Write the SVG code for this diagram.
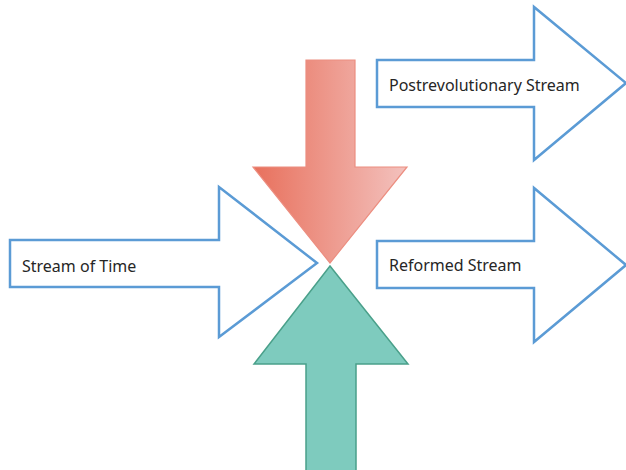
<svg xmlns="http://www.w3.org/2000/svg" width="626" height="470" viewBox="0 0 626 470">
<style>
.blue{fill:#fff;stroke:#5B9BD5;stroke-width:2.5;stroke-linejoin:miter}
.lbl{font-family:"Noto Sans","Open Sans",sans-serif;font-size:16px;fill:#262626}
</style>
<defs>
<linearGradient id="rg" x1="0" y1="0" x2="1" y2="0">
<stop offset="0" stop-color="#E8705C"/>
<stop offset="1" stop-color="#F3C2BE"/>
</linearGradient>
</defs>
<rect width="626" height="470" fill="#fff"/>
<g id="red-arrow">
<polygon points="306,60 355,60 355,167 407,167 330,263 253,167 306,167" fill="url(#rg)" stroke="#EC8E80" stroke-width="1.2"/>
</g>
<g id="green-arrow">
<polygon points="330,266 408,364 356,364 356,472 306,472 306,364 254,364" fill="#7ECBBE" stroke="#4AA08A" stroke-width="1.5"/>
</g>
<g id="stream-of-time">
<polygon class="blue" points="10,240 219,240 219,187 317,263 219,337 219,287 10,287"/>
<text class="lbl" x="22" y="272">Stream of Time</text>
</g>
<g id="postrevolutionary">
<polygon class="blue" points="377,60 534,60 534,7 626,83 534,160 534,107 377,107"/>
<text class="lbl" x="389" y="91">Postrevolutionary Stream</text>
</g>
<g id="reformed">
<polygon class="blue" points="377,241 534,241 534,188 626,265 534,342 534,288 377,288"/>
<text class="lbl" x="389" y="271">Reformed Stream</text>
</g>
</svg>
